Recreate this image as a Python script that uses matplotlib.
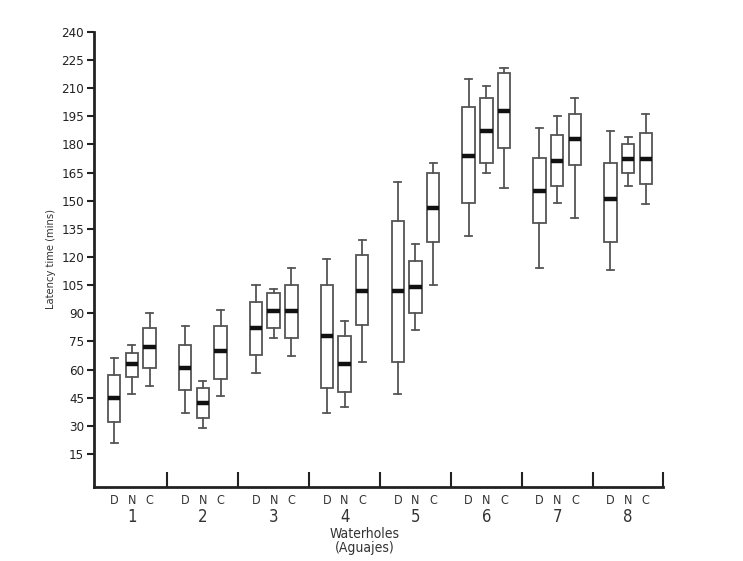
import matplotlib
matplotlib.use("Agg")
import matplotlib.pyplot as plt
from matplotlib import font_manager

# ---- data ----
waterholes = ["1", "2", "3", "4", "5", "6", "7", "8"]
treatments = ["D", "N", "C"]
# per box: (whisker low, Q1, median, Q3, whisker high), order D, N, C per waterhole
wh_low = [21, 47, 51,   37, 29, 46,   58, 77, 67,   37, 40, 64,
          47, 81, 105,  131, 165, 157,  114, 149, 141,  113, 158, 148]
q1 =     [32, 56, 61,   49, 34, 55,   68, 82, 77,   50, 48, 84,
          64, 90, 128,  149, 170, 178,  138, 158, 169,  128, 165, 159]
median = [45, 63, 72,   61, 42, 70,   82, 91, 91,   78, 63, 102,
          102, 104, 146, 174, 187, 198, 155, 171, 183,  151, 172, 172]
q3 =     [57, 69, 82,   73, 50, 83,   96, 101, 105, 105, 78, 121,
          139, 118, 165, 200, 205, 218, 173, 185, 196,  170, 180, 186]
wh_high = [66, 73, 90,  83, 54, 92,   105, 103, 114, 119, 86, 129,
           160, 127, 170, 215, 211, 221, 189, 195, 205, 187, 184, 196]
y_ticks = [15, 30, 45, 60, 75, 90, 105, 120, 135, 150, 165, 180, 195, 210, 225, 240]

# look for a condensed / narrow sans face
chosen = None
prefs = ["liberationsansnarrow-regular", "arialn", "dejavusanscondensed.ttf",
         "robotocondensed-regular", "opensans_condensed-regular", "notosans-condensed.ttf",
         "notosanscondensed-regular"]
entries = font_manager.fontManager.ttflist
for p in prefs:
    for e in entries:
        if p in e.fname.lower().replace(" ", "").replace("_", "") or p in e.fname.lower():
            chosen = e
            break
    if chosen:
        break
if chosen is None:
    for e in entries:
        fn = e.fname.lower()
        if ("condensed" in fn or "narrow" in fn) and "bold" not in fn and "italic" not in fn \
                and "light" not in fn and "semi" not in fn and "extra" not in fn:
            chosen = e
            break
if chosen is not None:
    plt.rcParams["font.family"] = [chosen.name, "DejaVu Sans"]
    plt.rcParams["font.stretch"] = chosen.stretch
else:
    plt.rcParams["font.family"] = ["Liberation Sans", "DejaVu Sans"]

fig = plt.figure(figsize=(7.43, 5.61), dpi=100)
ax = fig.add_axes([0.127, 0.1324, 0.766, 0.8106])

offsets = [0.25, 0.5, 0.75]
stats, positions = [], []
for g in range(len(waterholes)):
    for t in range(len(treatments)):
        i = g * 3 + t
        stats.append(dict(whislo=wh_low[i], q1=q1[i], med=median[i], q3=q3[i],
                          whishi=wh_high[i], fliers=[]))
        positions.append(g + offsets[t])

edge = "#555555"
ax.bxp(stats, positions=positions, widths=0.175, showfliers=False, patch_artist=True,
       boxprops=dict(facecolor="white", edgecolor=edge, linewidth=1.3),
       whiskerprops=dict(color=edge, linewidth=1.3),
       capprops=dict(color=edge, linewidth=1.3),
       medianprops=dict(color="#111111", linewidth=3.2, solid_capstyle="butt"),
       capwidths=0.1)

ax.set_xlim(-0.03, 8)
ax.set_ylim(-2.5, 240)
for s in ["top", "right"]:
    ax.spines[s].set_visible(False)
for s in ["left", "bottom"]:
    ax.spines[s].set_linewidth(2.0)
    ax.spines[s].set_color("#222222")

ax.set_yticks(y_ticks)
ax.set_yticklabels([str(v) for v in y_ticks], fontsize=9.5, color="#222222")
ax.tick_params(axis="y", direction="out", length=5, width=1.5, pad=2.5, color="#222222")

ax.set_xticks(positions)
ax.set_xticklabels(treatments * len(waterholes), fontsize=9, color="#333333")
ax.tick_params(axis="x", which="major", length=0, pad=5)
ax.set_xticks(list(range(1, len(waterholes) + 1)), minor=True)
ax.tick_params(axis="x", which="minor", direction="in", length=11, width=1.5, color="#222222")

trans = ax.get_xaxis_transform()
for g, name in enumerate(waterholes):
    ax.text(g + 0.5, -0.066, name, transform=trans, ha="center", va="center",
            fontsize=12, color="#333333")

ax.text(0.475, -0.119, "Waterholes\n(Aguajes)", transform=ax.transAxes, ha="center",
        va="center", fontsize=10, color="#333333", linespacing=0.95)
ax.set_ylabel("Latency time (mins)", fontsize=8, color="#333333", labelpad=4)

fig.savefig("out.png", dpi=100, facecolor="white")
